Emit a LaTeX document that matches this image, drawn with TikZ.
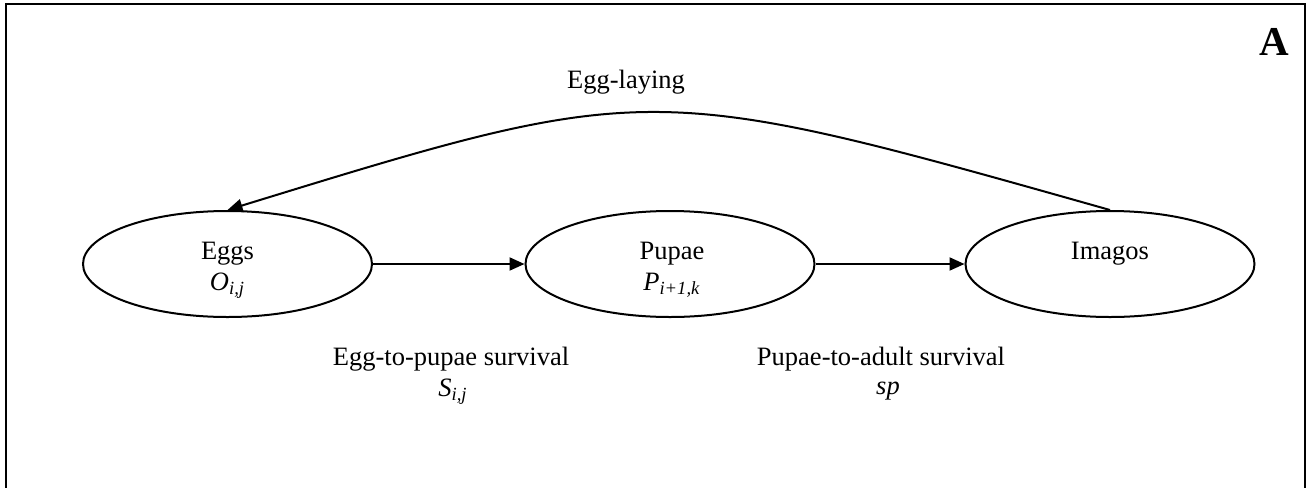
\documentclass[tikz,border=0pt]{standalone}
\usepackage{fontspec}
\setmainfont{Liberation Serif}
\usetikzlibrary{shapes.geometric,arrows.meta}

\tikzset{
  stage/.style={draw, ellipse, line width=1pt, minimum width=144.5pt, minimum height=53pt, inner sep=0pt},
  flow/.style={line width=1pt, -{Triangle[length=7.5pt,width=6.5pt]}},
  lbl/.style={anchor=base, inner sep=0pt, font=\fontsize{13.25}{15.5}\selectfont},
  panel/.style={anchor=base, inner sep=0pt, font=\fontsize{20.5}{24}\selectfont\bfseries}
}

\begin{document}
\begin{tikzpicture}[x=0.5pt, y=-0.5pt]
  \useasboundingbox (0,0) rectangle (1314,488);

  % frame (bottom edge lies below the page)
  \draw[line width=1pt] (6,520) -- (6,4) -- (1305,4) -- (1305,520);

  \node[panel] (panelA) at (1274,55) {A};

  % life stages
  \node[stage] (eggs)   at (227.5,264) {};
  \node[stage] (pupae)  at (670,264) {};
  \node[stage] (imagos) at (1110,264) {};

  \node[lbl] (eggsT)   at (227.5,259) {Eggs};
  \node[lbl] (eggsV)   at (227.5,290) {\textit{O}\textsubscript{\textit{i,j}}};
  \node[lbl] (pupaeT)  at (672,259) {Pupae};
  \node[lbl] (pupaeV)  at (672,290) {\textit{P}\textsubscript{\textit{i+1,k}}};
  \node[lbl] (imagosT) at (1110,259) {Imagos};

  % transitions
  \draw[flow] (eggs) -- (pupae);
  \draw[flow] (pupae) -- (imagos);
  \draw[flow] (imagos.north) .. controls (650,80) and (650,80) .. (eggs.north);

  % transition labels
  \node[lbl] (layT)   at (626,88) {Egg-laying};
  \node[lbl] (epT)    at (451,365) {Egg-to-pupae survival};
  \node[lbl] (epV)    at (453,396) {\textit{S}\textsubscript{\textit{i,j}}};
  \node[lbl] (paT)    at (881,365) {Pupae-to-adult survival};
  \node[lbl] (paV)    at (888,394) {\textit{sp}};
\end{tikzpicture}
\end{document}
